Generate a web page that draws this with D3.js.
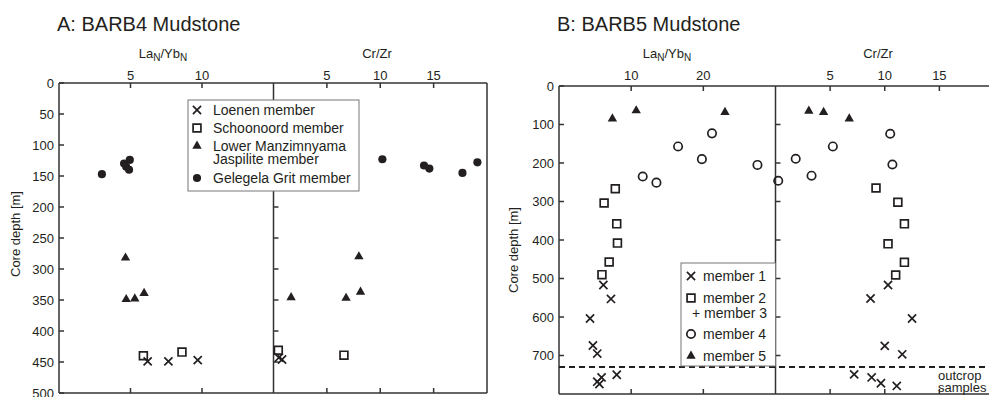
<!DOCTYPE html>
<html>
<head>
<meta charset="utf-8">
<script src="https://cdn.jsdelivr.net/npm/d3@7"></script>
<style>
  body { margin: 0; background: #fff; }
  text { font-family: "Liberation Sans", Arial, sans-serif; fill: #231f20; }
</style>
</head>
<body>
<div id="chart"></div>
<script>
// values are [ratio, depth in m]
// A: BARB4
const aLoenenLaYb = [[6.2, 449], [7.65, 449], [9.7, 447]];
const aSchoonoordLaYb = [[5.9, 440], [8.6, 434]];
const aManzLaYb = [[4.65, 282], [4.7, 349], [5.3, 348], [5.95, 339]];
const aGelegelaLaYb = [[3.0, 147], [4.55, 130], [4.7, 135], [4.9, 140], [4.95, 124]];
const aLoenenCrZr = [[0.5, 443], [0.8, 446]];
const aSchoonoordCrZr = [[0.45, 431], [6.6, 439]];
const aManzCrZr = [[1.65, 346], [6.8, 347], [8.0, 280], [8.15, 337]];
const aGelegelaCrZr = [[10.2, 123], [14.1, 133], [14.6, 138], [17.7, 145], [19.1, 128]];

// B: BARB5
const bM1LaYb = [[6.15, 517], [7.2, 553], [4.3, 604], [4.7, 674], [5.3, 695], [5.9, 757], [8.0, 750], [5.3, 768], [5.6, 774]];
const bM2LaYb = [[7.8, 267], [6.25, 304], [8.0, 358], [8.1, 408], [6.95, 457], [5.95, 490]];
const bM3LaYb = [];
const bM4LaYb = [[21.2, 123], [16.5, 157], [19.8, 190], [27.5, 205], [11.6, 235], [13.5, 251]];
const bM5LaYb = [[7.4, 85], [10.7, 64], [23.0, 68]];
const bM1CrZr = [[10.3, 517], [8.7, 552], [12.5, 604], [10.0, 675], [11.6, 697], [7.2, 749], [8.8, 757], [9.65, 772], [11.1, 779]];
const bM2CrZr = [[9.2, 265], [11.2, 302], [11.8, 358], [10.3, 410], [11.8, 458], [11.0, 491]];
const bM3CrZr = [];
const bM4CrZr = [[10.5, 124], [5.25, 157], [1.85, 189], [10.7, 204], [3.3, 233], [0.25, 246]];
const bM5CrZr = [[3.05, 65], [4.4, 68], [6.75, 85]];

const aDepthTicks = [0, 50, 100, 150, 200, 250, 300, 350, 400, 450, 500];
const bDepthTicks = [0, 100, 200, 300, 400, 500, 600, 700];
const aLaYbTicks = [5, 10];
const bLaYbTicks = [10, 20];
const crZrTicks = [5, 10, 15];
const outcropDepth = 730;

const aLegend = [
  { sym: "times", label: ["Loenen member"] },
  { sym: "square", label: ["Schoonoord member"] },
  { sym: "tri", label: ["Lower Manzimnyama", "Jaspilite member"] },
  { sym: "dot", label: ["Gelegela Grit member"] },
];
const bLegend = [
  { sym: "times", label: "member 1" },
  { sym: "square", label: "member 2" },
  { sym: "plus", label: "+ member 3" },
  { sym: "circle", label: "member 4" },
  { sym: "tri", label: "member 5" },
];

const svg = d3.select("#chart").append("svg")
  .attr("width", 989)
  .attr("height", 397);

const ink = "#231f20";

function symbolPath(s) {
  if (s == "times") return d3.symbol(d3.symbolTimes, 45)();
  if (s == "square") return d3.symbol(d3.symbolSquare2, 78)();
  if (s == "circle") return d3.symbol(d3.symbolCircle, 55)();
  if (s == "tri") return d3.symbol(d3.symbolTriangle, 38)();
  if (s == "dot") return d3.symbol(d3.symbolCircle, 52)();
  if (s == "plus") return d3.symbol(d3.symbolPlus, 40)();
}
function filled(s) { return s == "tri" || s == "dot"; }

function drawPoints(g, data, sym, x, y) {
  g.selectAll(null)
    .data(data)
    .enter()
    .append("path")
    .attr("transform", d => `translate(${x(d[0])},${y(d[1])})`)
    .attr("d", symbolPath(sym))
    .style("fill", filled(sym) ? ink : "none")
    .style("stroke", ink)
    .style("stroke-width", filled(sym) ? 0 : 1.7);
}

function laYbLabel(g, cx) {
  const t = g.append("text").attr("x", cx).attr("y", 58)
    .style("text-anchor", "middle").style("font-size", "13px");
  t.append("tspan").text("La");
  t.append("tspan").text("N").attr("dy", 3).style("font-size", "10px");
  t.append("tspan").text("/Yb").attr("dy", -3);
  t.append("tspan").text("N").attr("dy", 3).style("font-size", "10px");
}

function panel(cfg) {
  const g = svg.append("g");
  const y = d3.scaleLinear().domain(cfg.depthDomain).range([cfg.top, cfg.bottom]);
  const xl = d3.scaleLinear().domain(cfg.laDomain).range([cfg.left, cfg.mid]);
  const xr = d3.scaleLinear().domain([0, 20]).range([cfg.mid, cfg.right]);

  // title
  g.append("text").attr("x", cfg.left - 2).attr("y", 31)
    .text(cfg.title).style("font-size", "20px");

  // frame
  const line = (x1, y1, x2, y2) => g.append("line")
    .attr("x1", x1).attr("y1", y1).attr("x2", x2).attr("y2", y2)
    .style("stroke", "#333").style("stroke-width", 1.5);
  line(cfg.left, cfg.top, cfg.right, cfg.top);
  line(cfg.left, cfg.bottom, cfg.right, cfg.bottom);
  line(cfg.left, cfg.top, cfg.left, cfg.bottom);
  line(cfg.mid, cfg.top, cfg.mid, cfg.bottom);
  line(cfg.right, cfg.top, cfg.right, cfg.bottom);

  // depth ticks on left edge and divider
  cfg.depthTicks.forEach(t => {
    line(cfg.left, y(t), cfg.left + 5, y(t));
    if (t > 0 && t < cfg.depthDomain[1]) line(cfg.mid, y(t), cfg.mid + 5, y(t));
    g.append("text").attr("x", cfg.left - 5).attr("y", y(t))
      .attr("dy", "0.35em").style("text-anchor", "end").style("font-size", "13px")
      .text(t);
  });

  // ratio ticks top and bottom
  const xt = (scale, ticks) => ticks.forEach(t => {
    line(scale(t), cfg.top, scale(t), cfg.top + 5);
    line(scale(t), cfg.bottom, scale(t), cfg.bottom - 5);
    g.append("text").attr("x", scale(t)).attr("y", 80)
      .style("text-anchor", "middle").style("font-size", "13px").text(t);
  });
  xt(xl, cfg.laTicks);
  xt(xr, crZrTicks);

  laYbLabel(g, cfg.laLabelX);
  g.append("text").attr("x", cfg.crLabelX).attr("y", 58)
    .style("text-anchor", "middle").style("font-size", "13px").text("Cr/Zr");

  g.append("text")
    .attr("transform", `translate(${cfg.yLabelX},${cfg.yLabelY}) rotate(-90)`)
    .style("text-anchor", "middle").style("font-size", "13px")
    .text("Core depth [m]");

  cfg.series.forEach(s => {
    drawPoints(g, s.la, s.sym, xl, y);
    drawPoints(g, s.cr, s.sym, xr, y);
  });
  return { g, y, xl, xr };
}

const A = panel({
  title: "A: BARB4 Mudstone",
  left: 59, mid: 273.5, right: 487, top: 83, bottom: 393,
  depthDomain: [0, 500], laDomain: [0, 15],
  depthTicks: aDepthTicks, laTicks: aLaYbTicks,
  laLabelX: 163, crLabelX: 377, yLabelX: 20, yLabelY: 234,
  series: [
    { sym: "times", la: aLoenenLaYb, cr: aLoenenCrZr },
    { sym: "square", la: aSchoonoordLaYb, cr: aSchoonoordCrZr },
    { sym: "tri", la: aManzLaYb, cr: aManzCrZr },
    { sym: "dot", la: aGelegelaLaYb, cr: aGelegelaCrZr },
  ],
});

const B = panel({
  title: "B: BARB5 Mudstone",
  left: 559, mid: 775.5, right: 994, top: 86, bottom: 394,
  depthDomain: [0, 800], laDomain: [0, 30],
  depthTicks: bDepthTicks, laTicks: bLaYbTicks,
  laLabelX: 667, crLabelX: 878, yLabelX: 518, yLabelY: 250,
  series: [
    { sym: "times", la: bM1LaYb, cr: bM1CrZr },
    { sym: "square", la: bM2LaYb, cr: bM2CrZr },
    { sym: "plus", la: bM3LaYb, cr: bM3CrZr },
    { sym: "circle", la: bM4LaYb, cr: bM4CrZr },
    { sym: "tri", la: bM5LaYb, cr: bM5CrZr },
  ],
});

// outcrop line in B
B.g.append("line")
  .attr("x1", 559).attr("x2", 994)
  .attr("y1", B.y(outcropDepth)).attr("y2", B.y(outcropDepth))
  .style("stroke", ink).style("stroke-width", 2).style("stroke-dasharray", "6,4");
B.g.append("text").attr("x", 938).attr("y", 380).style("font-size", "13px").text("outcrop");
B.g.append("text").attr("x", 938).attr("y", 392).style("font-size", "13px").text("samples");

// legend A
const la = A.g.append("g");
la.append("rect").attr("x", 188).attr("y", 100).attr("width", 171).attr("height", 91)
  .style("fill", "#fff").style("stroke", "#777").style("stroke-width", 1);
const aRowY = [110, 128, 146, 178];
aLegend.forEach((d, i) => {
  la.append("path").attr("transform", `translate(197,${aRowY[i]})`)
    .attr("d", symbolPath(d.sym))
    .style("fill", filled(d.sym) ? ink : "none").style("stroke", ink)
    .style("stroke-width", filled(d.sym) ? 0 : 1.7);
  d.label.forEach((l, j) => {
    la.append("text").attr("x", 213).attr("y", aRowY[i] + j * 13)
      .attr("dy", "0.35em").style("font-size", "14px").text(l);
  });
});

// legend B
const lb = B.g.append("g");
lb.append("rect").attr("x", 681).attr("y", 263).attr("width", 94.5).attr("height", 103)
  .style("fill", "#fff").style("stroke", "#777").style("stroke-width", 1);
const bRowY = [276, 298, 313, 334, 356];
bLegend.forEach((d, i) => {
  if (d.sym != "plus") {
    lb.append("path").attr("transform", `translate(691,${bRowY[i]})`)
      .attr("d", symbolPath(d.sym))
      .style("fill", filled(d.sym) ? ink : "none").style("stroke", ink)
      .style("stroke-width", filled(d.sym) ? 0 : 1.7);
  }
  lb.append("text").attr("x", d.sym == "plus" ? 692 : 703).attr("y", bRowY[i])
    .attr("dy", "0.35em").style("font-size", "14px").text(d.label);
});
</script>
</body>
</html>
